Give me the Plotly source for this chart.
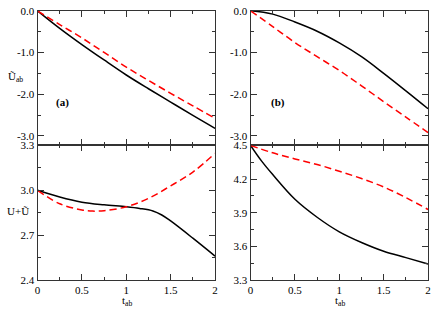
import plotly.graph_objects as go

t = [0, 0.25, 0.5, 0.75, 1.0, 1.25, 1.5, 1.75, 2.0]

# Panel (a) top
a_top_black = [0, -0.42, -0.81, -1.18, -1.54, -1.87, -2.19, -2.51, -2.82]
a_top_red = [0, -0.33, -0.65, -1.00, -1.35, -1.67, -1.98, -2.28, -2.58]
# Panel (b) top
b_top_black = [0, -0.08, -0.27, -0.49, -0.77, -1.10, -1.50, -1.92, -2.35]
b_top_red = [0, -0.38, -0.76, -1.10, -1.43, -1.80, -2.18, -2.55, -2.92]

# Panel (a) bottom
t_ab = [0, 0.25, 0.5, 0.75, 1.0, 1.15, 1.3, 1.4, 1.5, 1.75, 2.0]
a_bot_black = [3.0, 2.955, 2.921, 2.903, 2.89, 2.879, 2.862, 2.835, 2.795, 2.68, 2.56]
t_ar = [0, 0.25, 0.5, 0.62, 0.75, 1.0, 1.25, 1.5, 1.75, 2.0]
a_bot_red = [3.0, 2.91, 2.869, 2.861, 2.864, 2.89, 2.946, 3.03, 3.122, 3.247]
# Panel (b) bottom
t_bb = [0, 0.125, 0.25, 0.5, 0.75, 1.0, 1.25, 1.5, 1.75, 2.0]
b_bot_black = [4.5, 4.36, 4.24, 4.02, 3.86, 3.73, 3.635, 3.557, 3.50, 3.443]
b_bot_red = [4.5, 4.434, 4.38, 4.33, 4.27, 4.205, 4.13, 4.035, 3.929]

W, H = 436, 313
def px(x0, x1):
    return [x0 / W, x1 / W]
def py(y0, y1):
    return [(H - y1) / H, (H - y0) / H]

fig = go.Figure()
FONT = "'Liberation Serif', 'Times New Roman', serif"
black = dict(color="black", width=1.5)
red = dict(color="#ff0000", width=1.5, dash="7px,4px")

def add(x, y, line, xa, ya):
    fig.add_trace(go.Scatter(x=x, y=y, mode="lines", line=line, line_shape="spline",
                             xaxis=xa, yaxis=ya, showlegend=False, hoverinfo="skip"))

add(t, a_top_black, black, "x", "y")
add(t, a_top_red, red, "x", "y")
add(t, b_top_black, black, "x2", "y2")
add(t, b_top_red, red, "x2", "y2")
add(t_ab, a_bot_black, black, "x3", "y3")
add(t_ar, a_bot_red, red, "x3", "y3")
add(t_bb, b_bot_black, black, "x4", "y4")
add(t, b_bot_red, red, "x4", "y4")

common = dict(showline=True, mirror="allticks", linecolor="#333", linewidth=1,
              ticks="inside", ticklen=6, tickcolor="#333", showgrid=False, zeroline=False,
              ticklabeloverflow="allow",
              tickfont=dict(family=FONT, size=11, color="black"))
minor = dict(ticks="inside", ticklen=3, tickcolor="#333", showgrid=False)

xt = dict(range=[0, 2], tickvals=[0, 0.5, 1, 1.5, 2], ticktext=["0", "0.5", "1", "1.5", "2"],
          minor=dict(dtick=0.25, **minor), **common)

Lx = px(35, 215)
Rx = px(251, 431)
Ty = py(5, 145)
By = py(145, 285)

fig.update_layout(
    width=W, height=H, margin=dict(l=0, r=0, t=0, b=0),
    paper_bgcolor="white", plot_bgcolor="white",
    font=dict(family=FONT, size=11, color="black"),
    xaxis=dict(domain=Lx, anchor="y", showticklabels=False, **xt),
    xaxis2=dict(domain=Rx, anchor="y2", showticklabels=False, **xt),
    xaxis3=dict(domain=Lx, anchor="y3", **xt),
    xaxis4=dict(domain=Rx, anchor="y4", **xt),
    yaxis=dict(domain=Ty, anchor="x", range=[-3.23, 0],
               tickvals=[0, -1, -2, -3], ticktext=["0.0", "-1.0", "-2.0", "-3.0"],
               minor=dict(tickvals=[-0.5, -1.5, -2.5], **minor), **common),
    yaxis2=dict(domain=Ty, anchor="x2", range=[-3.23, 0],
                tickvals=[0, -1, -2, -3], ticktext=["0.0", "-1.0", "-2.0", "-3.0"],
                minor=dict(tickvals=[-0.5, -1.5, -2.5], **minor), **common),
    yaxis3=dict(domain=By, anchor="x3", range=[2.4, 3.3],
                tickvals=[2.4, 2.7, 3.0, 3.3], ticktext=["2.4", "2.7", "3.0", "3.3"],
                minor=dict(tickvals=[2.55, 2.85, 3.15], **minor), **common),
    yaxis4=dict(domain=By, anchor="x4", range=[3.3, 4.5],
                tickvals=[3.3, 3.6, 3.9, 4.2, 4.5], ticktext=["3.3", "3.6", "3.9", "4.2", "4.5"],
                minor=dict(tickvals=[3.45, 3.75, 4.05, 4.35], **minor), **common),
)

ann = [
    dict(text="<b>(a)</b>", x=60 / W, y=(H - 100) / H),
    dict(text="<b>(b)</b>", x=279 / W, y=(H - 100) / H),
    dict(text="Ũ<sub>ab</sub>", x=13 / W, y=(H - 74) / H),
    dict(text="U+Ũ", x=15 / W, y=(H - 213) / H),
    dict(text="t<sub>ab</sub>", x=126 / W, y=(H - 307) / H),
    dict(text="t<sub>ab</sub>", x=342 / W, y=(H - 307) / H),
]
for a in ann:
    fig.add_annotation(xref="paper", yref="paper", showarrow=False,
                       xanchor="center", yanchor="middle",
                       font=dict(family=FONT, size=11, color="black"), **a)

fig.write_html("out.html", config={"displayModeBar": False},
               post_script="document.body.style.margin='0';document.body.style.overflow='hidden';")
